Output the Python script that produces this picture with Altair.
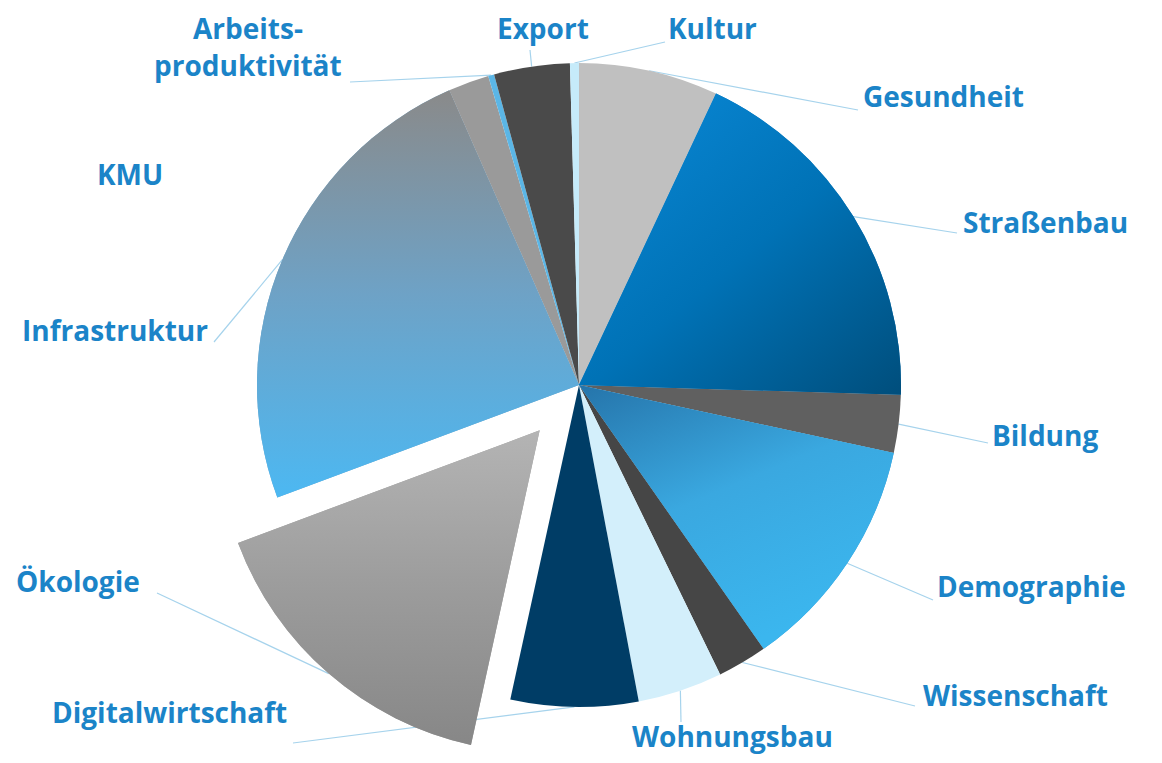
import altair as alt
import pandas as pd

# ---------------- data ----------------
categories = ["Gesundheit", "Straßenbau", "Bildung", "Demographie", "Wissenschaft",
              "Wohnungsbau", "Digitalwirtschaft", "Ökologie", "Infrastruktur", "KMU",
              "Arbeitsproduktivität", "Export", "Kultur"]
shares = [7.0, 18.5, 2.9, 11.9, 2.5, 4.25, 6.4, 15.9, 24.1, 2.05, 0.3, 3.8, 0.45]

# ---------------- style / layout ----------------
colours = ["#c0c0c0", "#0874bb", "#606060", "#2f98d4", "#464646", "#d3effb",
           "#003d66", "#a2a2a2", "#6ea6cc", "#9a9a9a", "#5bb6e6", "#4a4a4a", "#c6ebfa"]
gradients = {
    "Straßenbau": dict(x1=0.1, y1=0, x2=1, y2=1, stops=["#0a88d6", "#0072b6", "#004e7c"]),
    "Demographie": dict(x1=0, y1=0, x2=0.5, y2=1, stops=["#2574aa", "#3aa8e0", "#3bb6ee"]),
    "Infrastruktur": dict(x1=0, y1=0, x2=0, y2=1, stops=["#8a8a8a", "#6ea2c6", "#4cb8f2"]),
    "Ökologie": dict(x1=0, y1=0, x2=0, y2=1, stops=["#b4b4b4", "#9c9c9c", "#878787"]),
}
explode = {"Ökologie": 60}
M = 8                      # page margin
CX, CY, R = 579 - M, 385 - M, 322
label_pos = {  # (left x, baseline y) in page pixels
    "Gesundheit": [(863, 107)],
    "Straßenbau": [(963, 233)],
    "Bildung": [(992, 446)],
    "Demographie": [(937, 597)],
    "Wissenschaft": [(923, 706)],
    "Wohnungsbau": [(632, 747)],
    "Digitalwirtschaft": [(52, 723)],
    "Ökologie": [(16, 592)],
    "Infrastruktur": [(22, 341)],
    "KMU": [(97, 185)],
    "Arbeitsproduktivität": [(193, 39), (154, 76)],
    "Export": [(497, 39)],
    "Kultur": [(668, 39)],
}
label_text = {"Arbeitsproduktivität": ["Arbeits-", "produktivität"]}
leader_start = {
    "Gesundheit": (858, 110), "Straßenbau": (957, 233), "Bildung": (988, 443),
    "Demographie": (933, 600), "Wissenschaft": (915, 706), "Wohnungsbau": (681, 722),
    "Digitalwirtschaft": (293, 743), "Ökologie": (157, 593), "Infrastruktur": (214, 342),
    "Arbeitsproduktivität": (350, 82), "Export": (530, 50), "Kultur": (665, 42),
}

rows = []
for i, (c, s) in enumerate(zip(categories, shares)):
    ls = leader_start.get(c)
    rows.append(dict(idx=i, category=c, share=s, explode=explode.get(c, 0),
                     lx=(ls[0] - M) if ls else None, ly=(ls[1] - M) if ls else None))
df = pd.DataFrame(rows)

labels = []
for c in categories:
    texts = label_text.get(c, [c])
    for t, (x, y) in zip(texts, label_pos[c]):
        labels.append(dict(text=t, x=x - M, y=y - M))
ldf = pd.DataFrame(labels)

base = alt.Chart(df).transform_joinaggregate(
    total="sum(share)"
).transform_window(
    cum="sum(share)", sort=[alt.SortField("idx")], frame=[None, 0]
).transform_calculate(
    t0="(datum.cum - datum.share) / datum.total * 2 * PI",
    t1="datum.cum / datum.total * 2 * PI",
    mid="(datum.t0 + datum.t1) / 2",
    cx=f"{CX} + datum.explode * sin(datum.mid)",
    cy=f"{CY} - datum.explode * cos(datum.mid)",
    ax=f"datum.cx + {R} * sin(datum.mid)",
    ay=f"datum.cy - {R} * cos(datum.mid)",
)

enc = dict(
    theta=alt.Theta("t0:Q", scale=None),
    theta2="t1:Q",
    x=alt.X("cx:Q", scale=None, axis=None),
    y=alt.Y("cy:Q", scale=None, axis=None),
)

arcs = base.mark_arc(radius=R).encode(
    color=alt.Color("category:N", scale=alt.Scale(domain=categories, range=colours), legend=None),
    **enc,
)

layers = [arcs]
for cat, g in gradients.items():
    n = len(g["stops"])
    fill = {"gradient": "linear", "x1": g["x1"], "y1": g["y1"], "x2": g["x2"], "y2": g["y2"],
            "stops": [{"offset": k / (n - 1), "color": col} for k, col in enumerate(g["stops"])]}
    layers.append(base.transform_filter(alt.datum.category == cat).mark_arc(radius=R, fill=fill).encode(**enc))

leaders = base.transform_filter("isValid(datum.lx)").mark_rule(color="#a6d3ec", strokeWidth=1.2).encode(
    x=alt.X("lx:Q", scale=None, axis=None),
    y=alt.Y("ly:Q", scale=None, axis=None),
    x2="ax:Q",
    y2="ay:Q",
)
layers.insert(0, leaders)

text = alt.Chart(ldf).mark_text(
    align="left", baseline="alphabetic", font="Open Sans", fontWeight="bold", fontSize=28, color="#1b84c8"
).encode(
    x=alt.X("x:Q", scale=None, axis=None),
    y=alt.Y("y:Q", scale=None, axis=None),
    text="text:N",
)
layers.append(text)

chart = alt.layer(*layers).properties(
    width=1146, height=747, padding=0, autosize="none", background="white"
).configure_view(strokeWidth=0)

chart.save("out.html", embed_options={"renderer": "svg", "actions": False})
